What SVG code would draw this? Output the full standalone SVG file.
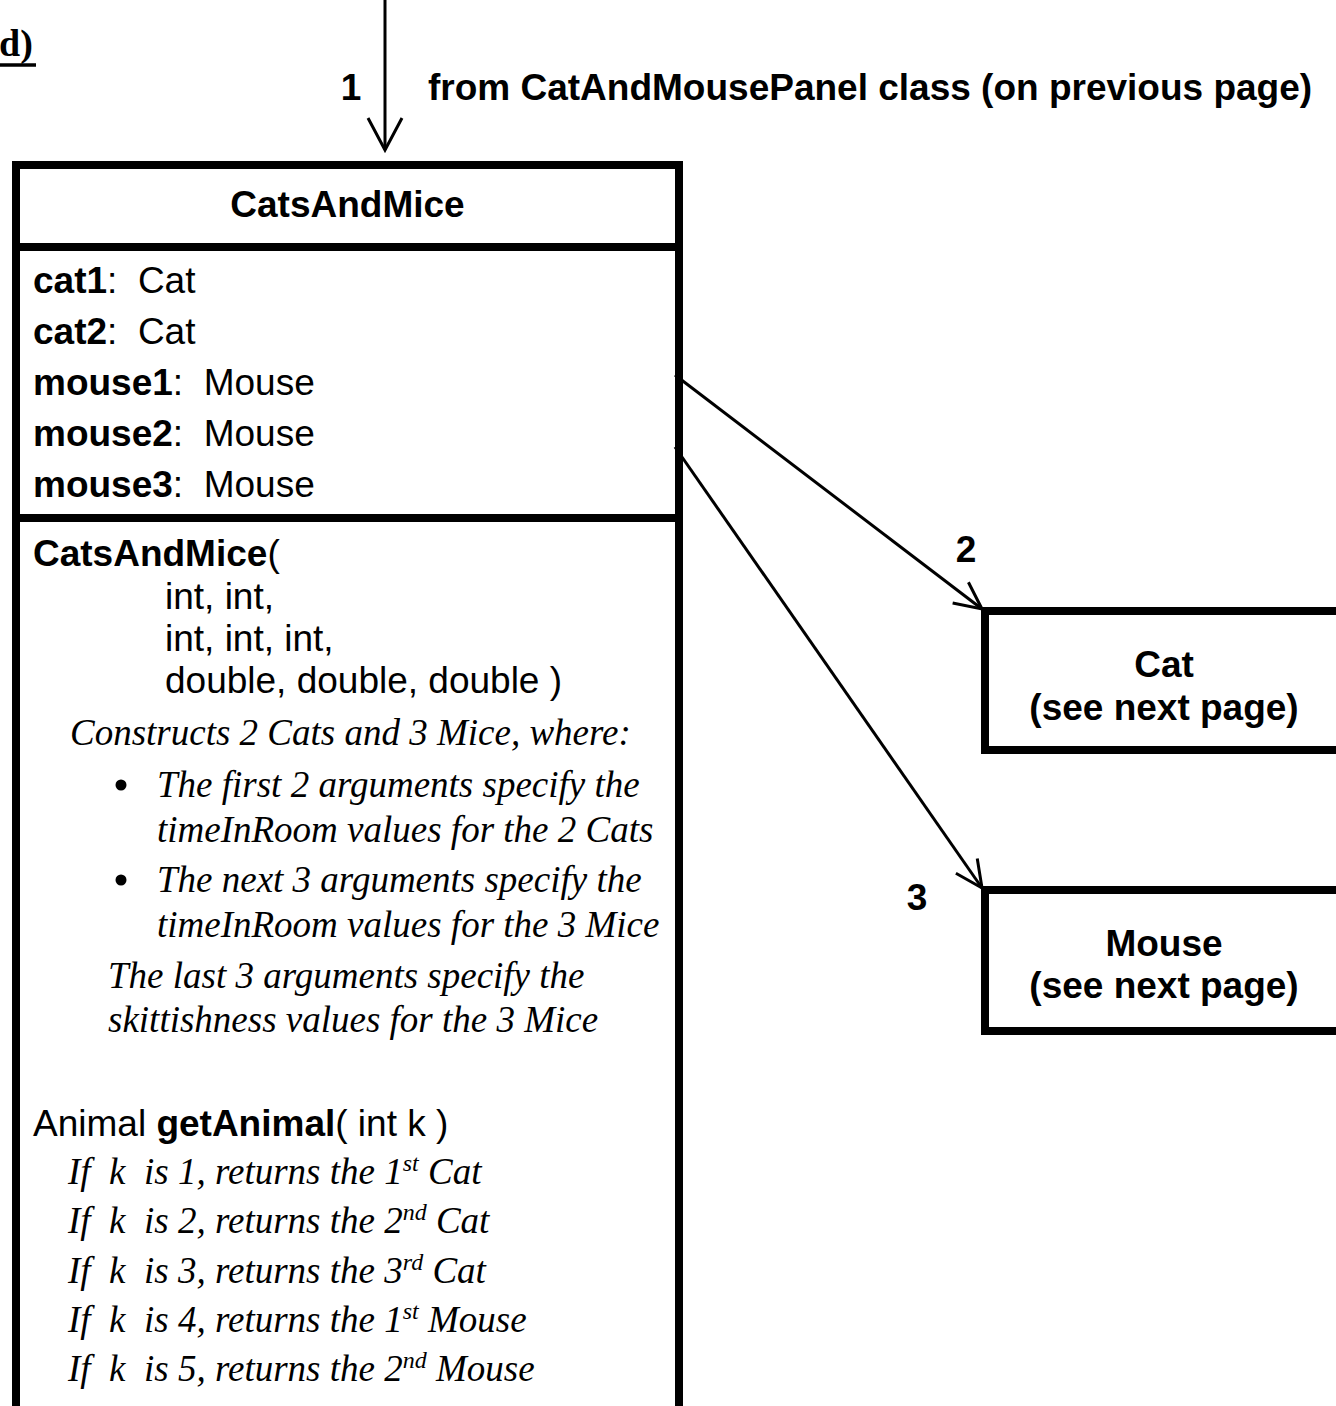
<svg xmlns="http://www.w3.org/2000/svg" width="1336" height="1406" viewBox="0 0 1336 1406">
<style>
  .sans { font-family: "Liberation Sans", Arial, sans-serif; font-size: 37px; fill: #000; }
  .b { font-weight: bold; }
  .ital { font-family: "Liberation Serif", "Times New Roman", serif; font-style: italic; font-size: 37px; fill: #000; }
  .pre { white-space: pre; }
  .box { fill: #fff; stroke: #000; stroke-width: 8; }
  .div { stroke: #000; stroke-width: 8; }
  .conn { fill: none; stroke: #000; stroke-width: 3; }
  .sup { font-size: 24px; }
</style>
<defs>
  <marker id="open" markerUnits="userSpaceOnUse" orient="auto" refX="0" refY="0" markerWidth="10" markerHeight="10" style="overflow:visible">
    <path d="M-27,-13 L0,0 L-27,13" fill="none" stroke="#000" stroke-width="3"/>
  </marker>
  <marker id="openBig" markerUnits="userSpaceOnUse" orient="auto" refX="0" refY="0" markerWidth="10" markerHeight="10" style="overflow:visible">
    <path d="M-32,-17 L0,0 L-32,17" fill="none" stroke="#000" stroke-width="3"/>
  </marker>
</defs>
<rect width="1336" height="1406" fill="#fff"/>

<g id="page-label">
  <text x="-1" y="56" font-family="'Liberation Serif', 'Times New Roman', serif" font-weight="bold" font-size="38">d)</text>
  <line x1="0" y1="65" x2="36" y2="65" stroke="#000" stroke-width="3.5"/>
</g>

<g id="CatsAndMice">
  <rect class="box" x="16" y="165" width="663" height="1300"/>
  <line class="div" x1="16" y1="247" x2="679" y2="247"/>
  <line class="div" x1="16" y1="518" x2="679" y2="518"/>
  <text class="sans b" x="347.5" y="217" text-anchor="middle">CatsAndMice</text>

  <text class="sans pre" x="33" y="293"><tspan class="b">cat1</tspan>:  Cat</text>
  <text class="sans pre" x="33" y="344"><tspan class="b">cat2</tspan>:  Cat</text>
  <text class="sans pre" x="33" y="395"><tspan class="b">mouse1</tspan>:  Mouse</text>
  <text class="sans pre" x="33" y="446"><tspan class="b">mouse2</tspan>:  Mouse</text>
  <text class="sans pre" x="33" y="497"><tspan class="b">mouse3</tspan>:  Mouse</text>

  <text class="sans" x="33" y="566"><tspan class="b">CatsAndMice</tspan>(</text>
  <text class="sans" x="165" y="609">int, int,</text>
  <text class="sans" x="165" y="651">int, int, int,</text>
  <text class="sans" x="165" y="693">double, double, double )</text>
  <text class="ital" x="70" y="745">Constructs 2 Cats and 3 Mice, where:</text>
  <circle cx="121" cy="785" r="5.5"/>
  <text class="ital" x="157" y="797">The first 2 arguments specify the</text>
  <text class="ital" x="157" y="842">timeInRoom values for the 2 Cats</text>
  <circle cx="121" cy="880" r="5.5"/>
  <text class="ital" x="157" y="892">The next 3 arguments specify the</text>
  <text class="ital" x="157" y="937">timeInRoom values for the 3 Mice</text>
  <text class="ital" x="108" y="988">The last 3 arguments specify the</text>
  <text class="ital" x="108" y="1032">skittishness values for the 3 Mice</text>

  <text class="sans" x="33" y="1136">Animal <tspan class="b">getAnimal</tspan>( int k )</text>
  <text class="ital pre" x="68" y="1184">If  k  is 1, returns the 1<tspan class="sup" dy="-13">st</tspan><tspan dy="13"> Cat</tspan></text>
  <text class="ital pre" x="68" y="1233">If  k  is 2, returns the 2<tspan class="sup" dy="-13">nd</tspan><tspan dy="13"> Cat</tspan></text>
  <text class="ital pre" x="68" y="1283">If  k  is 3, returns the 3<tspan class="sup" dy="-13">rd</tspan><tspan dy="13"> Cat</tspan></text>
  <text class="ital pre" x="68" y="1332">If  k  is 4, returns the 1<tspan class="sup" dy="-13">st</tspan><tspan dy="13"> Mouse</tspan></text>
  <text class="ital pre" x="68" y="1381">If  k  is 5, returns the 2<tspan class="sup" dy="-13">nd</tspan><tspan dy="13"> Mouse</tspan></text>
</g>

<g id="Cat">
  <rect class="box" x="985" y="611" width="400" height="139"/>
  <text class="sans b" x="1164" y="677" text-anchor="middle">Cat</text>
  <text class="sans b" x="1164" y="720" text-anchor="middle">(see next page)</text>
</g>

<g id="Mouse">
  <rect class="box" x="985" y="890" width="400" height="141"/>
  <text class="sans b" x="1164" y="956" text-anchor="middle">Mouse</text>
  <text class="sans b" x="1164" y="998" text-anchor="middle">(see next page)</text>
</g>

<g id="connectors">
  <line class="conn" x1="385" y1="0" x2="385" y2="150" stroke-width="3.5" marker-end="url(#openBig)"/>
  <text class="sans b" x="351" y="100" text-anchor="middle">1</text>
  <text class="sans b" x="428" y="100">from CatAndMousePanel class (on previous page)</text>

  <line class="conn" x1="675" y1="375" x2="982" y2="609" marker-end="url(#open)"/>
  <text class="sans b" x="966" y="562" text-anchor="middle">2</text>

  <line class="conn" x1="675" y1="447" x2="982" y2="888" marker-end="url(#open)"/>
  <text class="sans b" x="917" y="910" text-anchor="middle">3</text>
</g>
</svg>
